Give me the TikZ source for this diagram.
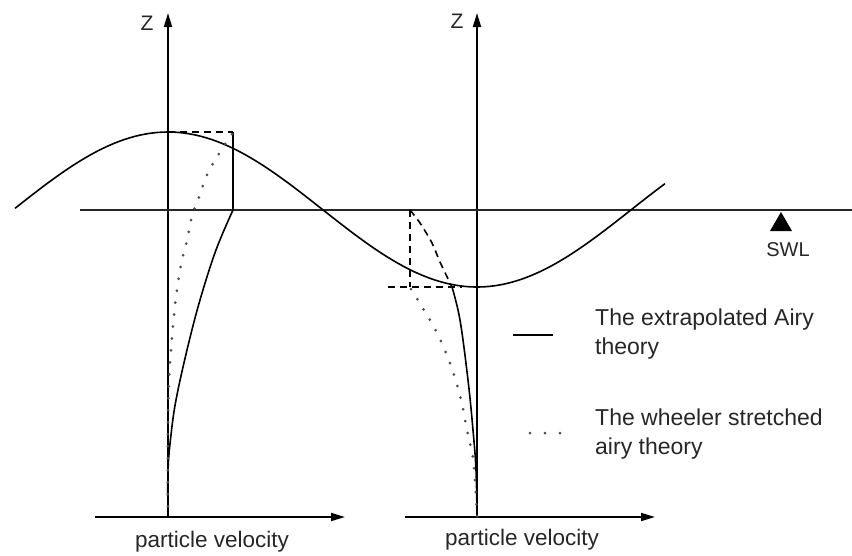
\documentclass[tikz,border=0pt]{standalone}
\usepackage{fontspec}
\newfontfamily\labelfont{Liberation Sans}
\usetikzlibrary{arrows.meta, positioning}

\begin{document}
\begin{tikzpicture}[x=1pt, y=-1pt,
  lbl/.style={font=\labelfont\fontsize{23}{29}\selectfont, inner sep=0pt, black!85},
  axis/.style={-{Triangle[length=14pt, width=8pt]}, line width=1.8pt},
  curve/.style={line width=1.6pt},
  dashline/.style={line width=1.6pt, dash pattern=on 7pt off 5pt},
  dotline/.style={line width=3pt, line cap=round, dash pattern=on 0pt off 12pt, black!70}
]
\useasboundingbox (0,0) rectangle (852,555);

% axes
\coordinate (L0) at (168,517);
\coordinate (LT) at (168,13);
\coordinate (LB0) at (95,517);
\coordinate (LB1) at (345,517);
\coordinate (R0) at (477,517);
\coordinate (RT) at (477,13);
\coordinate (RB0) at (405,517);
\coordinate (RB1) at (655,517);
\draw[axis] (L0) -- (LT);
\draw[axis] (LB0) -- (LB1);
\draw[axis] (R0) -- (RT);
\draw[axis] (RB0) -- (RB1);

\node[lbl, font=\labelfont\fontsize{21}{23}\selectfont] (zl) at (147,23) {Z};
\node[lbl, font=\labelfont\fontsize{21}{23}\selectfont] (zr) at (457,21) {Z};
\node[lbl, font=\labelfont\fontsize{22.5}{25}\selectfont] (vl) at (212,542) {particle velocity};
\node[lbl, font=\labelfont\fontsize{22.5}{25}\selectfont] (vr) at (522,540) {particle velocity};

% still water level
\coordinate (S0) at (80,210);
\coordinate (S1) at (852,210);
\draw[line width=1.8pt, black!85] (S0) -- (S1);
\fill (781,212) -- (770,231) -- (792,231) -- cycle;
\node[lbl, font=\labelfont\fontsize{20}{22}\selectfont] (swl) at (788,250) {SWL};

% wave surface
\draw[curve] plot[domain=15:665, samples=120] (\x, {209.5-77.5*cos(0.5825*(\x-168))});

% crest profile
\coordinate (C0) at (168,132);
\coordinate (C1) at (233,132);
\coordinate (C2) at (233,210);
\draw[dashline] (C0) -- (C1);
\draw[curve] (C1) -- (C2);
\draw[curve] plot[smooth, tension=0.6] coordinates {(233,210) (216,250) (200,300) (187,350) (176,400) (171,435) (168,470) (168,517)};
\draw[dotline] plot[smooth, tension=0.6] coordinates {(232,134) (220,152) (207,175) (198,200) (193,212) (187,240) (181,265) (176,297) (173,325) (171,350) (169,380) (168,420) (168,517)};

% trough profile
\coordinate (T0) at (410,210);
\coordinate (T1) at (410,287);
\coordinate (T2) at (388,287);
\coordinate (T3) at (462,287);
\draw[dashline] (T0) -- (T1);
\draw[dashline] (T2) -- (T3);
\draw[dashline] plot[smooth] coordinates {(410,210) (420,223) (432,243) (440,262) (452,287)};
\draw[curve] plot[smooth, tension=0.6] coordinates {(452,287) (460,320) (468,380) (473,430) (476,470) (477,517)};
\draw[dotline] plot[smooth, tension=0.6] coordinates {(411,289) (422,307) (435,329) (446,353) (455,378) (462,404) (467,430) (473,458) (475,480) (477,517)};

% legend
\coordinate (A0) at (513,335);
\coordinate (A1) at (553,335);
\draw[curve] (A0) -- (A1);
\node[lbl, anchor=north west, align=left] (airy) at (595,309) {The extrapolated Airy\\theory};
\coordinate (W0) at (530,433);
\coordinate (W1) at (561,433);
\draw[dotline, dash pattern=on 0pt off 15pt] (W0) -- (W1);
\node[lbl, anchor=north west, align=left] (wheeler) at (595,409) {The wheeler stretched\\airy theory};
\end{tikzpicture}
\end{document}
